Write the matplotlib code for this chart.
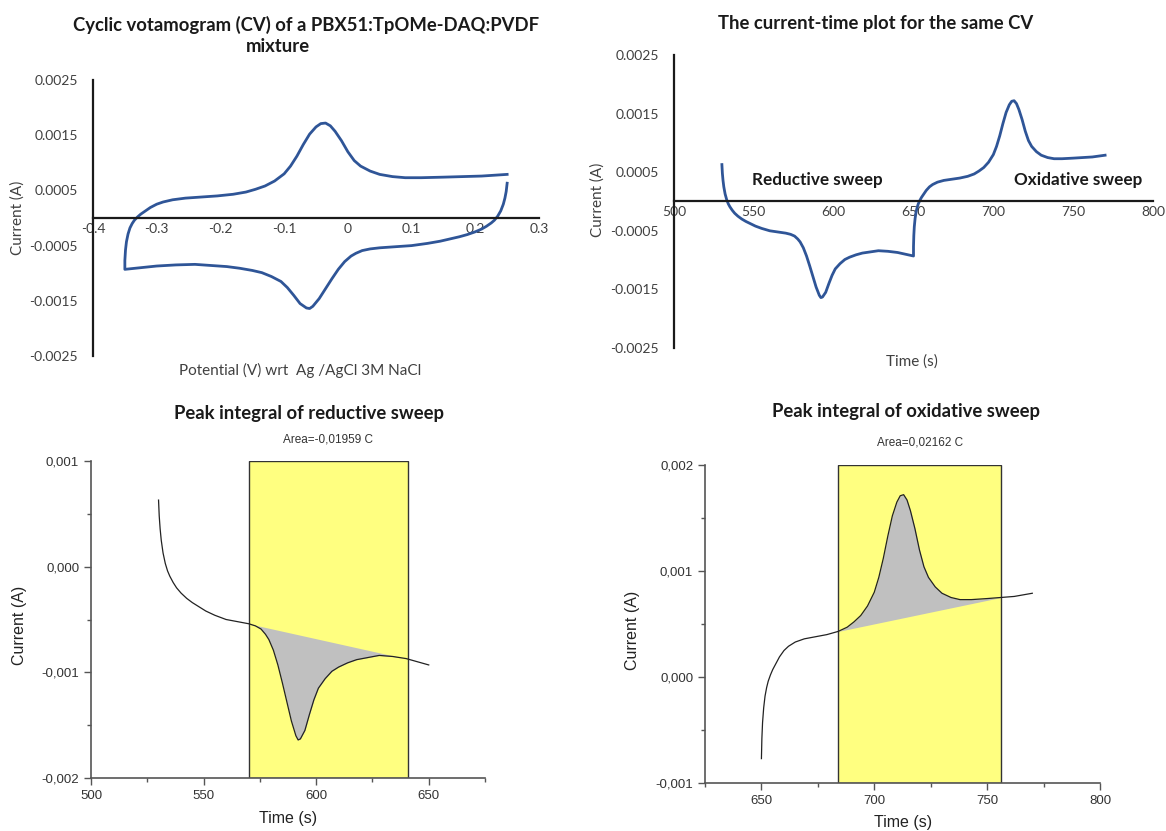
import numpy as np
import matplotlib
matplotlib.use("Agg")
import matplotlib.pyplot as plt
from matplotlib.ticker import MultipleLocator, FuncFormatter

# reductive sweep (0.25 V -> -0.35 V)
t_red = [530, 530.3, 530.7, 531.2, 532, 533, 534, 535, 536.5, 538, 540, 542.5, 545, 548,
         551, 555, 560, 565, 570, 573, 575.5, 577.5, 579, 581, 583, 585, 587, 589, 591,
         592, 593, 595, 597, 599, 601, 604, 607, 610, 614, 618, 623, 628, 634, 640, 645, 650]
e_red = [0.25, 0.2485, 0.2465, 0.244, 0.24, 0.235, 0.23, 0.225, 0.2175, 0.21, 0.20, 0.1875,
         0.175, 0.16, 0.145, 0.125, 0.10, 0.075, 0.05, 0.035, 0.0225, 0.0125, 0.005, -0.005,
         -0.015, -0.025, -0.035, -0.045, -0.055, -0.06, -0.065, -0.075, -0.085, -0.095,
         -0.105, -0.12, -0.135, -0.15, -0.17, -0.19, -0.215, -0.24, -0.27, -0.30, -0.325, -0.35]
i_red = [0.00063, 0.00048, 0.00036, 0.00025, 0.00013, 0.00003, -0.00004, -0.00009,
         -0.00015, -0.00020, -0.00025, -0.00030, -0.00034, -0.00038, -0.00042, -0.00046,
         -0.00050, -0.00052, -0.00054, -0.00056, -0.00059, -0.00064, -0.00069, -0.00079,
         -0.00093, -0.00110, -0.00128, -0.00146, -0.00160, -0.00164, -0.00163, -0.00155,
         -0.00140, -0.00126, -0.00115, -0.00106, -0.00099, -0.00095, -0.00091, -0.00088,
         -0.00086, -0.00084, -0.00085, -0.00087, -0.00090, -0.00093]

# oxidative sweep (-0.35 V -> 0.25 V)
t_ox = [650, 650.2, 650.5, 651, 651.6, 652.3, 653, 654, 655, 656.5, 658, 660, 662, 665, 669,
        674, 679, 684, 688, 691, 694, 697, 700, 702, 704, 706, 708, 710, 711.5, 713, 714.5,
        716, 718, 720, 722, 724, 727, 730, 734, 738, 743, 750, 756, 762, 770]
e_ox = [-0.35, -0.349, -0.3475, -0.345, -0.342, -0.3385, -0.335, -0.33, -0.325, -0.3175,
        -0.31, -0.30, -0.29, -0.275, -0.255, -0.23, -0.205, -0.18, -0.16, -0.145, -0.13,
        -0.115, -0.10, -0.09, -0.08, -0.07, -0.06, -0.05, -0.0425, -0.035, -0.0275, -0.02,
        -0.01, 0.0, 0.01, 0.02, 0.035, 0.05, 0.07, 0.09, 0.115, 0.15, 0.18, 0.21, 0.25]
i_ox = [-0.00077, -0.00058, -0.00043, -0.00029, -0.00018, -0.00010, -0.00004, 0.00002,
        0.00007, 0.00013, 0.00019, 0.00025, 0.00029, 0.00033, 0.00036, 0.00038, 0.00040,
        0.00043, 0.00047, 0.00052, 0.00058, 0.00067, 0.00080, 0.00094, 0.00112, 0.00133,
        0.00152, 0.00165, 0.00171, 0.00172, 0.00167, 0.00157, 0.00140, 0.00120, 0.00104,
        0.00094, 0.00085, 0.00079, 0.00075, 0.00073, 0.00073, 0.00074, 0.00075, 0.00076,
        0.00079]

red_window = (570, 641)
ox_window = (684, 756)
red_area = "Area=-0,01959 C"
ox_area = "Area=0,02162 C"

W, H = 1166, 831
fig = plt.figure(figsize=(W / 100, H / 100), dpi=100)

BLUE = "#2F5597"
TITLE_FONT = dict(family="Lato", weight="bold", color="#1a1a1a")
XL_FONT = dict(family="Lato", color="#404040")
ARIAL = "Liberation Sans"


def fx(px):
    return px / W


def fy(py):
    return 1 - py / H


def excel_axes(rect, xlim, ylim, xstep):
    ax = fig.add_axes(rect)
    ax.set_xlim(*xlim)
    ax.set_ylim(*ylim)
    for s in ("top", "right"):
        ax.spines[s].set_visible(False)
    ax.spines["bottom"].set_position(("data", 0))
    for s in ("left", "bottom"):
        ax.spines[s].set_linewidth(1.6)
        ax.spines[s].set_color("#1a1a1a")
    ax.xaxis.set_major_locator(MultipleLocator(xstep))
    ax.set_yticks(np.arange(ylim[0], ylim[1] + 1e-9, 0.001))
    ax.yaxis.set_major_formatter(FuncFormatter(lambda v, p: f"{v:.4f}".replace("-0.0000", "0")))
    ax.tick_params(length=0, labelsize=10, labelcolor="#404040")
    ax.tick_params(axis="y", pad=11)
    for lab in ax.get_xticklabels() + ax.get_yticklabels():
        lab.set_family("Lato")
    ax.patch.set_alpha(0)
    return ax


# ---- top left: CV ----
ax1 = excel_axes([fx(93), fy(356), fx(539 - 93), (356 - 80) / H], (-0.4, 0.3), (-0.0025, 0.0025), 0.1)
ax1.plot(e_red + e_ox, i_red + i_ox, color=BLUE, lw=2)
ax1.xaxis.set_major_formatter(FuncFormatter(lambda v, p: "0" if abs(v) < 1e-9 else f"{v:.1f}"))
fig.text(fx(306), fy(25), "Cyclic votamogram (CV) of a PBX51:TpOMe-DAQ:PVDF", ha="center", va="center",
         fontsize=13.3, **TITLE_FONT)
fig.text(fx(278), fy(47), "mixture", ha="center", va="center", fontsize=13.3, **TITLE_FONT)
fig.text(fx(300), fy(370), "Potential (V) wrt  Ag /AgCl 3M NaCl", ha="center", va="center",
         fontsize=11, **XL_FONT)
fig.text(fx(18), fy(218), "Current (A)", ha="center", va="center", rotation=90, fontsize=11, **XL_FONT)

# ---- top right: current vs time ----
ax2 = excel_axes([fx(674), fy(348), fx(1153 - 674), (348 - 55) / H], (500, 800), (-0.0025, 0.0025), 50)
ax2.plot(t_red + t_ox, i_red + i_ox, color=BLUE, lw=2)
ax2.text(590, 0.00037, "Reductive sweep", ha="center", va="center", fontsize=12.3, **TITLE_FONT)
ax2.text(753, 0.00037, "Oxidative sweep", ha="center", va="center", fontsize=12.3, **TITLE_FONT)
fig.text(fx(876), fy(23), "The current-time plot for the same CV", ha="center", va="center",
         fontsize=13.3, **TITLE_FONT)
fig.text(fx(912), fy(362), "Time (s)", ha="center", va="center", fontsize=11, **XL_FONT)
fig.text(fx(598), fy(200), "Current (A)", ha="center", va="center", rotation=90, fontsize=11, **XL_FONT)


def origin_axes(rect, xlim, ylim, xmajor, ymajor):
    ax = fig.add_axes(rect)
    ax.set_xlim(*xlim)
    ax.set_ylim(*ylim)
    for s in ("top", "right"):
        ax.spines[s].set_visible(False)
    for s in ("left", "bottom"):
        ax.spines[s].set_color("#555555")
        ax.spines[s].set_linewidth(1.2)
    ax.xaxis.set_major_locator(MultipleLocator(xmajor))
    ax.xaxis.set_minor_locator(MultipleLocator(xmajor / 2))
    ax.yaxis.set_major_locator(MultipleLocator(ymajor))
    ax.yaxis.set_minor_locator(MultipleLocator(ymajor / 2))
    ax.yaxis.set_major_formatter(FuncFormatter(lambda v, p: f"{v:.3f}".replace("-0.000", "0.000").replace(".", ",")))
    ax.tick_params(which="major", length=5, width=1, color="#555555", labelsize=9.5, labelcolor="#333333")
    ax.tick_params(which="minor", length=3, width=1, color="#555555")
    for lab in ax.get_xticklabels() + ax.get_yticklabels():
        lab.set_family(ARIAL)
    return ax


def peak_panel(ax, t, i, window):
    t = np.array(t)
    i = np.array(i)
    ax.axvspan(window[0], window[1], facecolor="#FFFF80", edgecolor="#333333", lw=1, zorder=1)
    i0, i1 = np.interp(window, t, i)
    m = (t >= window[0]) & (t <= window[1])
    tt = np.concatenate([[window[0]], t[m], [window[1]]])
    ii = np.concatenate([[i0], i[m], [i1]])
    base = np.interp(tt, window, [i0, i1])
    ax.fill_between(tt, ii, base, color="#C0C0C0", lw=0, zorder=2)
    ax.plot(t, i, color="#222222", lw=0.9, zorder=3)


# ---- bottom left: reductive peak ----
ax3 = origin_axes([fx(91), fy(778), fx(485 - 91), (778 - 461) / H], (500, 675), (-0.002, 0.001), 50, 0.001)
peak_panel(ax3, t_red, i_red, red_window)
fig.text(fx(309), fy(413), "Peak integral of reductive sweep", ha="center", va="center",
         fontsize=13.3, **TITLE_FONT)
fig.text(fx(328), fy(440), red_area, ha="center", va="center", fontsize=8.5, family=ARIAL, color="#333333")
fig.text(fx(288), fy(818), "Time (s)", ha="center", va="center", fontsize=11.5, family=ARIAL, color="#222222")
fig.text(fx(20), fy(625), "Current (A)", ha="center", va="center", rotation=90, fontsize=11.5,
         family=ARIAL, color="#222222")

# ---- bottom right: oxidative peak ----
ax4 = origin_axes([fx(705), fy(783), fx(1100 - 705), (783 - 465) / H], (625, 800), (-0.001, 0.002), 50, 0.001)
peak_panel(ax4, t_ox, i_ox, ox_window)
fig.text(fx(906), fy(412), "Peak integral of oxidative sweep", ha="center", va="center",
         fontsize=13.3, **TITLE_FONT)
fig.text(fx(920), fy(443), ox_area, ha="center", va="center", fontsize=8.5, family=ARIAL, color="#333333")
fig.text(fx(903), fy(822), "Time (s)", ha="center", va="center", fontsize=11.5, family=ARIAL, color="#222222")
fig.text(fx(633), fy(630), "Current (A)", ha="center", va="center", rotation=90, fontsize=11.5,
         family=ARIAL, color="#222222")

fig.savefig("out.png", dpi=100)
